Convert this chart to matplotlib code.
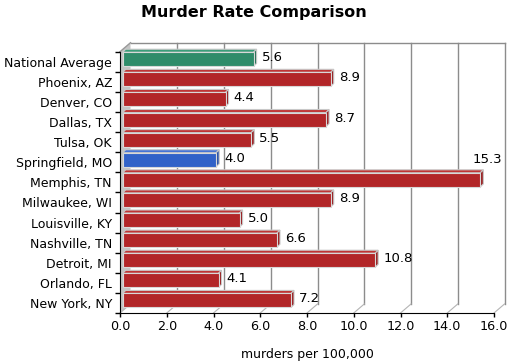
import matplotlib
matplotlib.use("Agg")
import matplotlib.pyplot as plt
from matplotlib.patches import Polygon
from matplotlib.lines import Line2D
from matplotlib.transforms import offset_copy, IdentityTransform

cities = ["National Average", "Phoenix, AZ", "Denver, CO", "Dallas, TX", "Tulsa, OK",
          "Springfield, MO", "Memphis, TN", "Milwaukee, WI", "Louisville, KY",
          "Nashville, TN", "Detroit, MI", "Orlando, FL", "New York, NY"]
rates = [5.6, 8.9, 4.4, 8.7, 5.5, 4.0, 15.3, 8.9, 5.0, 6.6, 10.8, 4.1, 7.2]
kinds = ["avg", "city", "city", "city", "city", "home", "city", "city", "city",
         "city", "city", "city", "city"]
xticks = [0, 2, 4, 6, 8, 10, 12, 14, 16]

front = {"avg": "#2f8c6a", "city": "#b22628", "home": "#3162c8"}
topc = {"avg": "#3a9e7a", "city": "#c03434", "home": "#4574d6"}
sidec = {"avg": "#257055", "city": "#981e20", "home": "#2650a8"}

W, H = 507, 363
fig = plt.figure(figsize=(W / 100, H / 100), dpi=100)
x0, x1 = 120, 494
ybot, ytop = 313, 51.7
ax = fig.add_axes([x0 / W, (H - ybot) / H, (x1 - x0) / W, (ybot - ytop) / H])
ax.set_xlim(0, 16)
n = len(cities)
ax.set_ylim(-0.5, n - 0.5)
ax.patch.set_visible(False)

PX = 72 / 100  # points per pixel
DX, DY = 10.5, 9.0      # wall depth in pixels
BX, BY = 2.7, 2.5       # bar front offset
BD = 3.0                # bar depth
ID = IdentityTransform()

def D(x, y):
    return ax.transData.transform((x, y))

def add_poly(pts, **kw):
    p = Polygon(pts, closed=True, transform=ID, clip_on=False, **kw)
    ax.add_patch(p)

def add_line(xs, ys, **kw):
    ln = Line2D(xs, ys, transform=ID, clip_on=False, **kw)
    ax.add_line(ln)

# left wall
p_a = D(0, -0.5); p_b = D(0, n - 0.5)
add_poly([p_a, p_b, (p_b[0] + DX, p_b[1] + DY), (p_a[0] + DX, p_a[1] + DY)],
         facecolor="#c4c4c4", edgecolor="none", zorder=0.5)
add_line([p_b[0], p_b[0] + DX], [p_b[1], p_b[1] + DY], color="#999999", lw=1, zorder=1)

# back wall grid lines and floor diagonals
for t in xticks:
    pa = D(t, -0.5); pb = D(t, n - 0.5)
    if t > 0:
        add_line([pa[0] + DX, pb[0] + DX], [pa[1] + DY, pb[1] + DY],
                 color="#8c8c8c", lw=1, zorder=1)
    add_line([pa[0], pa[0] + DX], [pa[1], pa[1] + DY], color="#b4b4b4", lw=0.8, zorder=1)
pl = D(0, n - 0.5); pr = D(16, n - 0.5)
add_line([pl[0] + DX, pr[0] + DX], [pl[1] + DY, pr[1] + DY], color="#8c8c8c", lw=1, zorder=1)

# bars
ypos = [n - 1 - i for i in range(n)]
bh = 0.7
ftrans = offset_copy(ax.transData, fig=fig, x=BX, y=BY, units="dots")
ax.barh(ypos, rates, height=bh, left=0,
        color=[front[k] for k in kinds], edgecolor="#d8d8d8", linewidth=0.8,
        transform=ftrans, zorder=3)
for y, v, k in zip(ypos, rates, kinds):
    tl = D(0, y + bh / 2); tr = D(v, y + bh / 2); br = D(v, y - bh / 2)
    tl = (tl[0] + BX, tl[1] + BY); tr = (tr[0] + BX, tr[1] + BY); br = (br[0] + BX, br[1] + BY)
    add_poly([tl, tr, (tr[0] + BD, tr[1] + BD), (tl[0] + BD, tl[1] + BD)],
             facecolor=topc[k], edgecolor="#c8c8c8", lw=0.8, zorder=2.6)
    add_poly([br, tr, (tr[0] + BD, tr[1] + BD), (br[0] + BD, br[1] + BD)],
             facecolor=sidec[k], edgecolor="#c8c8c8", lw=0.8, zorder=2.6)
    if v > 14:
        ax.annotate(f"{v:.1f}", xy=(v, y + bh / 2), xytext=(10, 9), textcoords="offset pixels",
                    ha="center", va="bottom", fontsize=9.5, color="black", zorder=5)
    else:
        ax.annotate(f"{v:.1f}", xy=(v, y), xytext=(BX + BD + 5, 4), textcoords="offset pixels",
                    ha="left", va="center", fontsize=9.5, color="black", zorder=5)

# axes styling
for s in ["top", "right"]:
    ax.spines[s].set_visible(False)
ax.spines["left"].set_color("black")
ax.spines["bottom"].set_color("black")
ax.spines["left"].set_zorder(4)
ax.spines["bottom"].set_zorder(4)
ax.set_xticks(xticks)
ax.set_xticklabels([f"{t:.1f}" for t in xticks])
ax.set_yticks(ypos)
ax.set_yticklabels(cities)
ax.set_yticks([i - 0.5 for i in range(n + 1)], minor=True)
ax.tick_params(axis="y", which="major", length=0, pad=8 * PX, labelsize=9)
ax.tick_params(axis="y", which="minor", length=5 * PX, width=1, color="black")
ax.tick_params(axis="x", length=4 * PX, width=1, pad=3 * PX, labelsize=9.2)
ax.set_xlabel("murders per 100,000", fontsize=9, labelpad=15 * PX)
fig.text(0.5, 1 - 12 / H, "Murder Rate Comparison", ha="center", va="center",
         fontsize=11.5, fontweight="bold")

fig.savefig("out.png", dpi=100)
